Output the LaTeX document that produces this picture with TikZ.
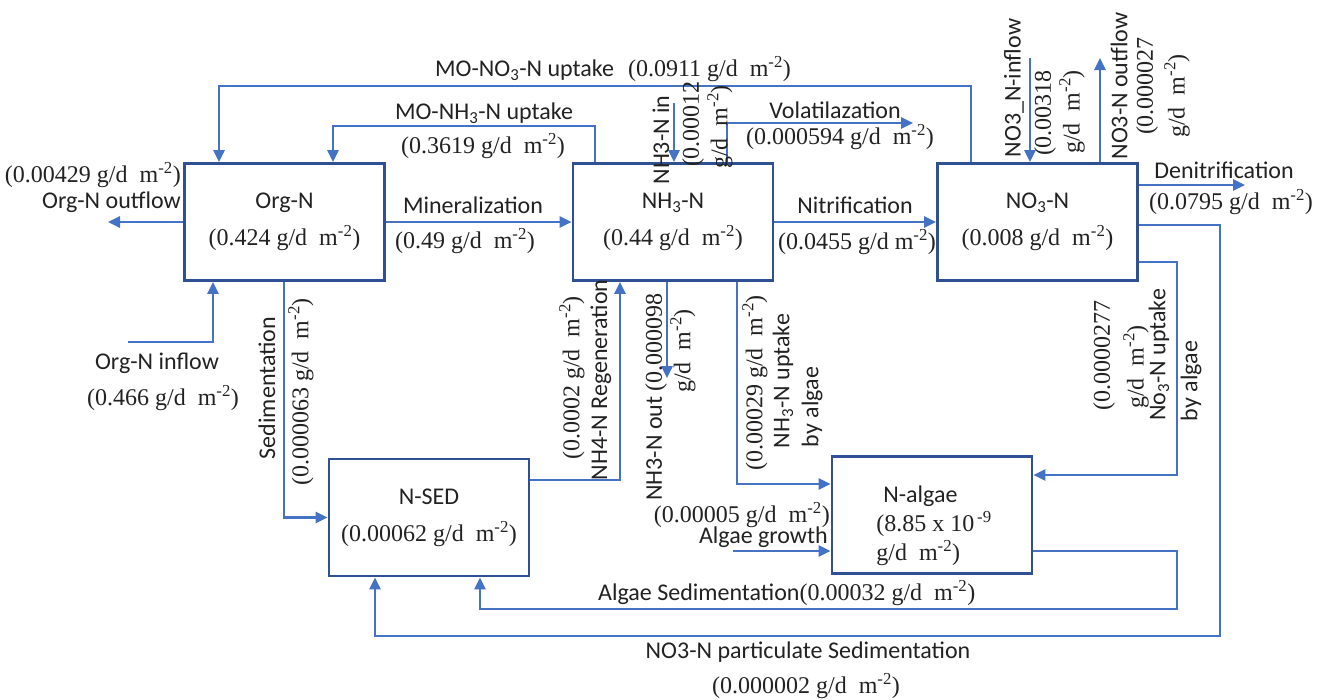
\documentclass[tikz,border=0pt]{standalone}
\usepackage{fontspec}
\setmainfont{Carlito}
\newfontfamily\numfont{Liberation Serif}
\usetikzlibrary{arrows.meta}
\definecolor{boxblue}{HTML}{2F5093}
\definecolor{linkblue}{HTML}{4472C4}
\definecolor{txt}{HTML}{222222}
\newcommand{\gdunit}{{\numfont g/d\ \ m\textsuperscript{-2})}}
\newcommand{\flux}[1]{{\numfont(#1 }\gdunit}

\begin{document}
\begin{tikzpicture}[x=1pt, y=-1pt,
  every node/.style={font=\fontsize{24}{29}\selectfont, text=txt, inner sep=0pt},
  box/.style={draw=boxblue, line width=2.8pt, minimum width=200pt,
              minimum height=117pt, align=center, font=\fontsize{24}{37}\selectfont},
  arr/.style={draw=linkblue, line width=2.6pt, -{Triangle[length=12pt,width=11pt]}},
  vlab/.style={rotate=90}]
  \useasboundingbox (0,0) rectangle (1322,699);

  % compartments
  \node[box] (orgn) at (284.5,222) {Org-N\\\flux{0.424}};
  \node[box] (nh3) at (673,222) {NH\textsubscript{3}-N\\\flux{0.44}};
  \node[box] (no3) at (1037.5,222) {NO\textsubscript{3}-N\\\flux{0.008}};
  \node[box] (nsed) at (429,517.5) {N-SED\\\flux{0.00062}};
  \node[box] (nalg) at (932,515) {};
  \node[align=left] (nalgtxt) at (934,526)
    {\hspace{7pt}N-algae\\{\numfont(8.85 x 10\textsuperscript{\,-9}}\\\gdunit};

  % bend points and free ends
  \coordinate (mono3a) at (971,86);
  \coordinate (mono3b) at (219,86);
  \coordinate (monh3a) at (595,126);
  \coordinate (monh3b) at (333,126);
  \coordinate (vola) at (727,123);
  \coordinate (volb) at (913,123);
  \coordinate (nh3in) at (674,103);
  \coordinate (no3in) at (1030,58);
  \coordinate (no3out) at (1100,58);
  \coordinate (denit) at (1245,185);
  \coordinate (orgout) at (108,222);
  \coordinate (orgina) at (128,342);
  \coordinate (orginb) at (213,342);
  \coordinate (seda) at (284,517.5);
  \coordinate (rega) at (620,480);
  \coordinate (nh3out) at (667,378);
  \coordinate (upa) at (737,484);
  \coordinate (no3upa) at (1177,262);
  \coordinate (no3upb) at (1177,475);
  \coordinate (growa) at (733,551);
  \coordinate (aseda) at (1177,551);
  \coordinate (asedb) at (1177,609);
  \coordinate (asedc) at (480,609);
  \coordinate (parta) at (1220,225);
  \coordinate (partb) at (1220,636);
  \coordinate (partc) at (375,636);

  % flows
  \draw[arr] (mono3a |- no3.north) -- (mono3a) -- (mono3b) -- (mono3b |- orgn.north);
  \draw[arr] (monh3a |- nh3.north) -- (monh3a) -- (monh3b) -- (monh3b |- orgn.north);
  \draw[arr] (orgn) -- (nh3);
  \draw[arr] (nh3) -- (no3);
  \draw[arr] (no3.east |- denit) -- (denit);
  \draw[arr] (vola |- nh3.north) -- (vola) -- (volb);
  \draw[arr] (nh3in) -- (nh3in |- nh3.north);
  \draw[arr] (no3in) -- (no3in |- no3.north);
  \draw[arr] (no3out |- no3.north) -- (no3out);
  \draw[arr] (orgn.west) -- (orgout);
  \draw[arr] (orgina) -- (orginb) -- (orginb |- orgn.south);
  \draw[arr] (seda |- orgn.south) -- (seda) -- (nsed.west);
  \draw[arr] (nsed.east |- rega) -- (rega) -- (rega |- nh3.south);
  \draw[arr] (nh3out |- nh3.south) -- (nh3out);
  \draw[arr] (upa |- nh3.south) -- (upa) -- (upa -| nalg.west);
  \draw[arr] (no3.east |- no3upa) -- (no3upa) -- (no3upb) -- (no3upb -| nalg.east);
  \draw[arr] (growa) -- (growa -| nalg.west);
  \draw[arr] (nalg.east |- aseda) -- (aseda) -- (asedb) -- (asedc) -- (asedc |- nsed.south);
  \draw[arr] (no3.east |- parta) -- (parta) -- (partb) -- (partc) -- (partc |- nsed.south);

  % flow labels
  \node[anchor=west] (lmono3) at (435,69) {MO-NO\textsubscript{3}-N uptake\hspace{14pt}\flux{0.0911}};
  \node (lmonh3) at (484,113) {MO-NH\textsubscript{3}-N uptake};
  \node (lmonh3v) at (483,146) {\flux{0.3619}};
  \node (lmin) at (473,205) {Mineralization};
  \node (lminv) at (465,241) {\flux{0.49}};
  \node (lnit) at (855,205) {Nitrification};
  \node (lnitv) at (857,242) {{\numfont(0.0455 g/d m\textsuperscript{-2})}};
  \node (lden) at (1224,170) {Denitrification};
  \node (ldenv) at (1231,202) {\flux{0.0795}};
  \node (lvol) at (835,110) {Volatilazation};
  \node (lvolv) at (840,137) {\flux{0.000594}};
  \node[anchor=east] (lorgoutv) at (181,175) {\flux{0.00429}};
  \node[anchor=east] (lorgout) at (181,202) {Org-N outflow};
  \node (lorgin) at (157,363) {Org-N inflow};
  \node (lorginv) at (163,398) {\flux{0.466}};
  \node[vlab] (lsed) at (267,388) {Sedimentation};
  \node[vlab] (lsedv) at (301,392) {\flux{0.000063}};
  \node[vlab] (lreg) at (601,380) {NH4-N Regeneration};
  \node[vlab] (lregv) at (572,378) {\flux{0.0002}};
  \node[vlab] (lnh3out) at (656,397) {NH3-N out {\numfont(0.000098}};
  \node[vlab] (lnh3outu) at (683,351) {\gdunit};
  \node[vlab] (lupv) at (755,383) {\flux{0.00029}};
  \node[vlab] (lup) at (783,381) {NH\textsubscript{3}-N uptake};
  \node[vlab] (lupb) at (812,407) {by algae};
  \node[vlab] (lno3upv) at (1104,355) {{\numfont(0.0000277}};
  \node[vlab] (lno3upu) at (1136,367) {\gdunit};
  \node[vlab] (lno3up) at (1159,355) {No\textsubscript{3}-N uptake};
  \node[vlab] (lno3upb) at (1191,381) {by algae};
  \node[vlab] (lnh3in) at (661,140) {NH3-N in};
  \node[vlab] (lnh3inv) at (693,124) {{\numfont(0.00012}};
  \node[vlab] (lnh3inu) at (720,127) {\gdunit};
  \node[vlab] (lno3in) at (1014,88) {NO3\_N-inflow};
  \node[vlab] (lno3inv) at (1045,113) {{\numfont(0.00318}};
  \node[vlab] (lno3inu) at (1072,112) {\gdunit};
  \node[vlab] (lno3out) at (1119,86) {NO3-N outflow};
  \node[vlab] (lno3outv) at (1147,86) {{\numfont(0.000027}};
  \node[vlab] (lno3outu) at (1177,96) {\gdunit};
  \node[anchor=east] (lgrowv) at (830,515) {\flux{0.00005}};
  \node[anchor=east] (lgrow) at (828,537) {Algae growth};
  \node[anchor=west] (lased) at (598,593) {Algae Sedimentation\flux{0.00032}};
  \node (lpart) at (808,652) {NO3-N particulate Sedimentation};
  \node (lpartv) at (806,686) {\flux{0.000002}};
\end{tikzpicture}
\end{document}
